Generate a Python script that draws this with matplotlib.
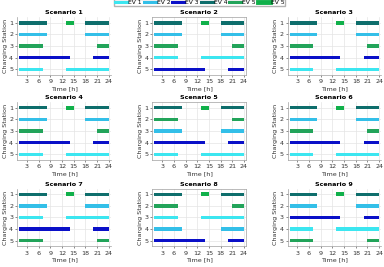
import matplotlib
matplotlib.use('Agg')
import matplotlib.pyplot as plt
from matplotlib.lines import Line2D

# charging intervals [h] for each EV (start, end)
ev_names = ['EV 1', 'EV 2', 'EV 3', 'EV 4', 'EV 5', 'EV 5']
ev_colors = ['#3ce6f0', '#33bfe8', '#0a10c8', '#0e6e6c', '#22a45a', '#10b04a']
ev_intervals = [
    [(1, 7), (13, 24)],
    [(1, 8), (18, 24)],
    [(1, 14), (20, 24)],
    [(1, 8), (18, 24)],
    [(1, 7), (21, 24)],
    [(13, 15)],
]

# which EV (1-based) sits at charging station 1..5 in each scenario
scenario_stations = [
    [4, 2, 5, 3, 1],
    [4, 2, 5, 1, 3],
    [4, 2, 5, 3, 1],
    [4, 2, 5, 3, 1],
    [4, 5, 2, 3, 1],
    [4, 2, 5, 3, 1],
    [4, 2, 1, 3, 5],
    [4, 5, 1, 2, 3],
    [4, 2, 3, 1, 5],
]
extra_ev = 6        # second "EV 5" entry, always at station 1
extra_station = 1

xticks = [3, 6, 9, 12, 15, 18, 21, 24]
stations = [1, 2, 3, 4, 5]

fig = plt.figure(figsize=(3.84, 2.67), dpi=100)

lefts = [0.045, 0.397, 0.749]
bottoms = [0.719, 0.401, 0.077]
w, h = 0.2435, 0.217
fs = 4.6

for i, order in enumerate(scenario_stations):
    r, c = divmod(i, 3)
    ax = fig.add_axes([lefts[c], bottoms[r], w, h])
    for st, ev in zip(stations, order):
        for a, b in ev_intervals[ev - 1]:
            ax.barh(st, b - a, left=a, height=0.28, color=ev_colors[ev - 1], zorder=3)
    for a, b in ev_intervals[extra_ev - 1]:
        ax.barh(extra_station, b - a, left=a, height=0.38,
                color=ev_colors[extra_ev - 1], zorder=3)
    ax.set_xlim(0.5, 24.5)
    ax.set_ylim(5.5, 0.5)
    ax.set_xticks(xticks)
    ax.set_yticks(stations)
    ax.tick_params(labelsize=fs, length=1.5, width=0.4, pad=1.5, colors='#333333')
    ax.grid(True, color='#e4e4e4', linewidth=0.5, zorder=0)
    ax.set_axisbelow(True)
    ax.set_title('Scenario %d' % (i + 1), fontsize=fs, fontweight='bold', pad=2)
    ax.set_xlabel('Time [h]', fontsize=fs, labelpad=1.5, color='#333333')
    ax.set_ylabel('Charging Station', fontsize=fs, labelpad=1, color='#333333')
    for side, sp in ax.spines.items():
        sp.set_color('#a0a0a0')
        sp.set_linewidth(0.5)
        if c != 1 and side in ('top', 'right'):
            sp.set_visible(False)

handles = [Line2D([0], [0], color=col, lw=2.2 if k < 5 else 3.5)
           for k, col in enumerate(ev_colors)]
fig.legend(handles, ev_names, loc='upper center', bbox_to_anchor=(0.52, 1.005),
           ncol=6, fontsize=4.3, frameon=True, fancybox=False, edgecolor='#a0a0a0',
           handlelength=2.0, handletextpad=0.2, columnspacing=0.3,
           borderpad=0.15, borderaxespad=0.1)

fig.savefig('out.png', dpi=100)
